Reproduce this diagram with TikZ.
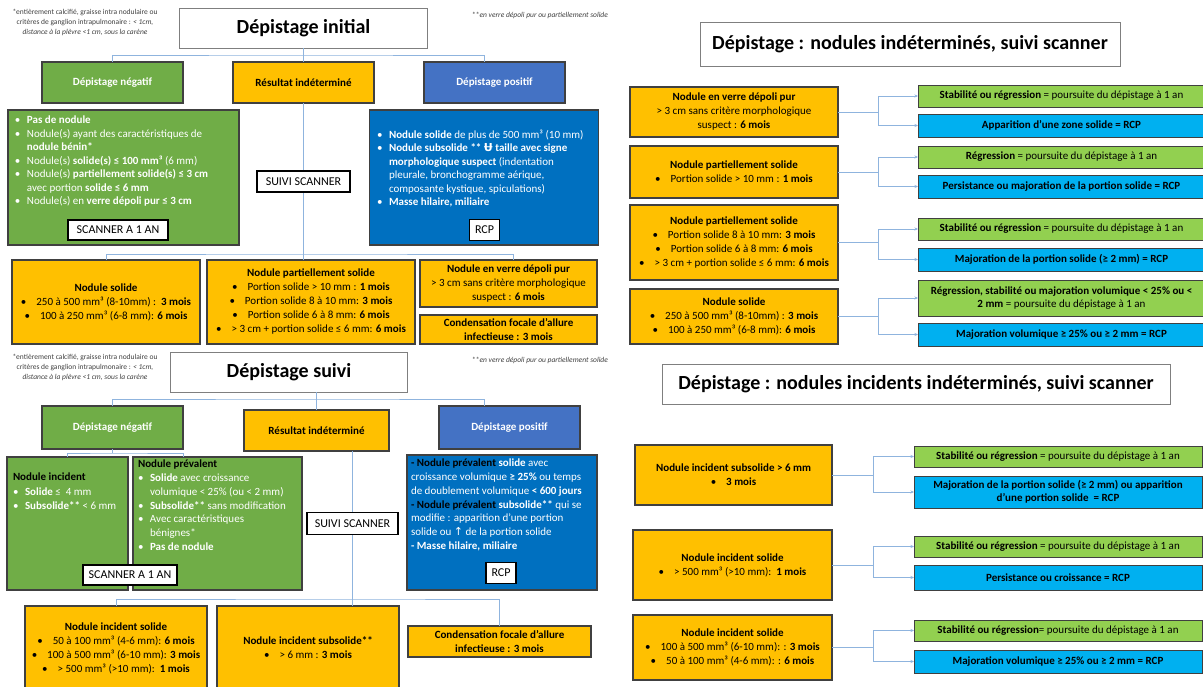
\documentclass[tikz,border=0pt]{standalone}
\usepackage{fontspec}
\setmainfont{Carlito}
\newfontfamily\symfont{DejaVu Sans}
\usetikzlibrary{arrows.meta}

\definecolor{c70ad47}{RGB}{112,173,71}
\definecolor{cffc000}{RGB}{255,192,0}
\definecolor{c4472c4}{RGB}{68,114,196}
\definecolor{c0070c0}{RGB}{0,112,192}
\definecolor{c92d050}{RGB}{146,208,80}
\definecolor{c00b0f0}{RGB}{0,176,240}
\definecolor{c404040}{RGB}{64,64,64}
\definecolor{c7f7f7f}{RGB}{127,127,127}
\definecolor{c8fb4de}{RGB}{143,180,222}

\newcommand{\fs}[2]{\fontsize{#1}{#2}\selectfont}
\newcommand{\blt}{\makebox[12pt][l]{•}}
\newcommand{\bct}{•\hspace{10pt}}

\tikzset{
  bx/.style 2 args={draw=c404040, line width=1.1pt, minimum width=#1,
    minimum height=#2, align=center, font=\fs{11}{14}},
  hdr/.style 2 args={bx={#1}{#2}, font=\fs{11}{13}\bfseries},
  ttl/.style 2 args={draw=c7f7f7f, line width=0.8pt, fill=white, minimum width=#1,
    minimum height=#2, font=\fs{20}{23}\bfseries},
  lbl/.style 2 args={draw=black, line width=1.2pt, fill=white, minimum width=#1,
    minimum height=#2, font=\fs{12}{14}},
  lst/.style={anchor=north west, align=left, text=white, font=\fs{11}{13.5}},
  note/.style={align=center, text=c404040, font=\fs{7.5}{10}},
  gbx/.style 2 args={bx={#1}{#2}, fill=c92d050, line width=0.9pt},
  cbx/.style 2 args={bx={#1}{#2}, fill=c00b0f0, line width=0.9pt, font=\fs{11}{13}\bfseries},
  conn/.style={draw=c8fb4de, line width=0.8pt},
  arr/.style={conn, -{Stealth[length=3.5pt, width=3pt]}}
}

\begin{document}
\begin{tikzpicture}[x=1pt, y=1pt, yscale=-1, inner sep=0pt, outer sep=0pt]
\path[use as bounding box, fill=white] (0,0) rectangle (1203,686);

% Depistage initial
\path (85,22) node[note] (fninit) {*entièrement calcifié, graisse intra nodulaire ou\\
  critères de ganglion intrapulmonaire : \textit{< 1cm,}\\
  \textit{distance à la plèvre <1 cm, sous la carène}};
\path (540,15) node[note] (fninit2) {**\textit{en verre dépoli pur ou partiellement solide}};
\path (303.5,28) node[ttl={248}{40}] (tinit) {Dépistage initial};
\path (112.5,82.5) node[hdr={141}{41}, fill=c70ad47, text=white] (hneg) {Dépistage négatif};
\path (303.5,82.5) node[hdr={141}{41}, fill=cffc000] (hind) {Résultat indéterminé};
\path (494.5,82.5) node[hdr={141}{41}, fill=c4472c4, text=white] (hpos) {Dépistage positif};
\path (123.5,177.5) node[bx={231}{135}, fill=c70ad47] (bneg) {};
\path (15,116) node[lst] (lneg) {\blt\textbf{Pas de nodule}\\
  \blt Nodule(s) ayant des caractéristiques de\\
  \hspace*{12pt}\textbf{nodule bénin*}\\
  \blt Nodule(s) \textbf{solide(s) ≤ 100 mm³} (6 mm)\\
  \blt Nodule(s) \textbf{partiellement solide(s) ≤ 3 cm}\\
  \hspace*{12pt}avec portion \textbf{solide ≤ 6 mm}\\
  \blt Nodule(s) en \textbf{verre dépoli pur ≤ 3 cm}};
\path (118,230) node[lbl={100}{20}] (scaninit) {SCANNER A 1 AN};
\path (484,177.5) node[bx={229}{135}, fill=c0070c0] (bpos) {};
\path (377,130) node[lst] (lpos) {\blt\textbf{Nodule solide} de plus de 500 mm³ (10 mm)\\
  \blt\textbf{Nodule subsolide ** {\symfont Ʉ} taille avec signe}\\
  \hspace*{12pt}\textbf{morphologique suspect} (indentation\\
  \hspace*{12pt}pleurale, bronchogramme aérique,\\
  \hspace*{12pt}composante kystique, spiculations)\\
  \blt\textbf{Masse hilaire, miliaire}};
\path (484.5,230) node[lbl={30}{21}] (rcpinit) {RCP};
\path (106,302) node[bx={188}{84}, fill=cffc000] (nsol) {\textbf{Nodule solide}\\
  \bct 250 à 500 mm³ (8-10mm) :\ \ \textbf{3 mois}\\
  \bct 100 à 250 mm³ (6-8 mm): \textbf{6 mois}};
\path (311,302) node[bx={208}{84}, fill=cffc000] (nps) {\textbf{Nodule partiellement solide}\\
  \bct Portion solide > 10 mm : \textbf{1 mois}\\
  \bct Portion solide 8 à 10 mm: \textbf{3 mois}\\
  \bct Portion solide 6 à 8 mm: \textbf{6 mois}\\
  \bct > 3 cm + portion solide ≤ 6 mm: \textbf{6 mois}};
\path (508.5,283.5) node[bx={177}{47}, fill=cffc000] (nvd) {\textbf{Nodule en verre dépoli pur}\\
  > 3 cm sans critère morphologique\\ suspect : \textbf{6 mois}};
\path (508.5,329.5) node[bx={177}{29}, fill=cffc000] (ncf) {\textbf{Condensation focale d’allure}\\
  \textbf{infectieuse : 3 mois}};
\path (tinit.south) ++(0,7) coordinate (j1);
\draw[conn] (tinit.south) -- (hind.north);
\draw[conn] (hneg.north) |- (j1) -| ([xshift=-10pt]hpos.north);
\path (303.5,254) coordinate (j2);
\draw[conn] (hind.south) -- (j2) -- (j2 |- nps.north);
\draw[conn] (nsol.north) |- (j2) -| ([xshift=5pt]nvd.north);
\path (303.5,181.5) node[lbl={93}{21}] (suiviinit) {SUIVI SCANNER};

% Depistage suivi
\path (85,367) node[note] (fnsuivi) {*entièrement calcifié, graisse intra nodulaire ou\\
  critères de ganglion intrapulmonaire : \textit{< 1cm,}\\
  \textit{distance à la plèvre <1 cm, sous la carène}};
\path (540,360) node[note] (fnsuivi2) {**\textit{en verre dépoli pur ou partiellement solide}};
\path (289,372) node[ttl={237}{40}] (tsuiv) {Dépistage suivi};
\path (112.5,427.5) node[hdr={141}{43}, fill=c70ad47, text=white] (hneg2) {Dépistage négatif};
\path (316.5,430.5) node[hdr={145}{41}, fill=cffc000] (hind2) {Résultat indéterminé};
\path (509.5,427.5) node[hdr={141}{43}, fill=c4472c4, text=white] (hpos2) {Dépistage positif};
\path (67.5,523.5) node[bx={121}{133}, fill=c70ad47] (binc) {};
\path (13,473) node[lst, font=\fs{11}{14.5}] (linc) {\textcolor{black}{\textbf{Nodule incident}}\\
  \blt\textbf{Solide} ≤\ \ 4 mm\\
  \blt\textbf{Subsolide**} < 6 mm};
\path (217.5,523.5) node[bx={169}{133}, fill=c70ad47] (bprev) {};
\path (138,460) node[lst, font=\fs{11}{13.8}] (lprev) {\textcolor{black}{\textbf{Nodule prévalent}}\\
  \blt\textbf{Solide} avec croissance\\
  \hspace*{12pt}volumique < 25\% (ou < 2 mm)\\
  \blt\textbf{Subsolide**} sans modification\\
  \blt Avec caractéristiques\\
  \hspace*{12pt}bénignes*\\
  \blt\textbf{Pas de nodule}};
\path (130,575) node[lbl={94}{20}] (scansuivi) {SCANNER A 1 AN};
\path (502,522.5) node[bx={190}{135}, fill=c0070c0] (bpos2) {};
\path (411,459) node[lst, font=\fs{11}{13.8}] (lpos2) {\textcolor{black}{\textbf{- Nodule prévalent}} \textbf{solide} avec\\
  croissance volumique \textbf{≥ 25\%} ou temps\\
  de doublement volumique \textbf{< 600 jours}\\
  \textcolor{black}{\textbf{- Nodule prévalent}} \textbf{subsolide**} qui se\\
  modifie : apparition d’une portion\\
  solide ou {\symfont ↑} de la portion solide\\
  \textbf{- Masse hilaire, miliaire}};
\path (501,573) node[lbl={30}{21}] (rcpsuivi) {RCP};
\path (116,648) node[bx={182}{84}, fill=cffc000] (ninc) {\textbf{Nodule incident solide}\\
  \bct 50 à 100 mm³ (4-6 mm): \textbf{6 mois}\\
  \bct 100 à 500 mm³ (6-10 mm): \textbf{3 mois}\\
  \bct > 500 mm³ (>10 mm):\ \ \textbf{1 mois}};
\path (308,648) node[bx={182}{84}, fill=cffc000] (nsub) {\textbf{Nodule incident subsolide**}\\
  \bct > 6 mm : \textbf{3 mois}};
\path (499.5,641.5) node[bx={183}{31}, fill=cffc000] (ncond) {\textbf{Condensation focale d’allure}\\
  \textbf{infectieuse : 3 mois}};
\path (tsuiv.south -| hind2.north) ++(0,7) coordinate (j3);
\draw[conn] (tsuiv.south -| hind2.north) -- (hind2.north);
\draw[conn] (hneg2.north) |- (j3) -| ([xshift=-25pt]hpos2.north);
\path (hneg2.south) ++(0,4) coordinate (j4);
\draw[conn] (hneg2.south) -- (j4);
\draw[conn] (binc.north) |- (j4) -| ([xshift=-34pt]bprev.north);
\path ([xshift=36pt]hind2.south) coordinate (k0);
\path (nsub.north -| k0) ++(0,-7) coordinate (j5);
\draw[conn] (k0) -- (j5) -- (j5 |- nsub.north);
\draw[conn] (ninc.north) |- (j5) -| (ncond.north);
\path (352.5,523.5) node[lbl={91}{22}] (suivisuivi) {SUIVI SCANNER};

% nodules indetermines
\path (910,44) node[ttl={420}{44}] (tnodind) {Dépistage : nodules indéterminés, suivi scanner};
\path (734,112) node[bx={208}{50}, fill=cffc000] (r1y) {\textbf{Nodule en verre dépoli pur}\\
  > 3 cm sans critère morphologique\\ suspect : \textbf{6 mois}};
\path (1061.5,96) node[gbx={287}{22}] (r1g) {\textbf{Stabilité ou régression} = poursuite du dépistage à 1 an};
\path (1061.5,125.5) node[cbx={287}{23}] (r1b) {Apparition d’une zone solide = RCP};
\path (734,172) node[bx={208}{52}, fill=cffc000] (r2y) {\textbf{Nodule partiellement solide}\\
  \bct Portion solide > 10 mm : \textbf{1 mois}};
\path (1061.5,157) node[gbx={287}{22}] (r2g) {\textbf{Régression} = poursuite du dépistage à 1 an};
\path (1061.5,186.5) node[cbx={287}{23}] (r2b) {Persistance ou majoration de la portion solide = RCP};
\path (734,242.5) node[bx={208}{75}, fill=cffc000] (r3y) {\textbf{Nodule partiellement solide}\\
  \bct Portion solide 8 à 10 mm: \textbf{3 mois}\\
  \bct Portion solide 6 à 8 mm: \textbf{6 mois}\\
  \bct > 3 cm + portion solide ≤ 6 mm: \textbf{6 mois}};
\path (1061.5,229) node[gbx={287}{22}] (r3g) {\textbf{Stabilité ou régression} = poursuite du dépistage à 1 an};
\path (1061.5,259.5) node[cbx={287}{23}] (r3b) {Majoration de la portion solide (≥ 2 mm) = RCP};
\path (734,316.5) node[bx={208}{55}, fill=cffc000] (r4y) {\textbf{Nodule solide}\\
  \bct 250 à 500 mm³ (8-10mm) : \textbf{3 mois}\\
  \bct 100 à 250 mm³ (6-8 mm): \textbf{6 mois}};
\path (1061.5,298) node[gbx={287}{36}, font=\fs{11}{12.5}] (r4g) {\textbf{Régression, stabilité ou majoration volumique < 25\% ou <}\\
  \textbf{2 mm} = poursuite du dépistage à 1 an};
\path (1061.5,334.5) node[cbx={287}{23}] (r4b) {Majoration volumique ≥ 25\% ou ≥ 2 mm = RCP};
\draw[conn] (r1y.east) -- ++(40,0) coordinate (k1);
\draw[arr] (k1) |- (r1g.west);
\draw[arr] (k1) |- (r1b.west);
\draw[conn] (r2y.east) -- ++(40,0) coordinate (k2);
\draw[arr] (k2) |- (r2g.west);
\draw[arr] (k2) |- (r2b.west);
\draw[conn] (r3y.east) -- ++(40,0) coordinate (k3);
\draw[arr] (k3) |- (r3g.west);
\draw[arr] (k3) |- (r3b.west);
\draw[conn] (r4y.east) -- ++(40,0) coordinate (k4);
\draw[arr] (k4) |- (r4g.west);
\draw[arr] (k4) |- (r4b.west);

% nodules incidents indetermines
\path (916,384) node[ttl={508}{40}] (tnodinc) {Dépistage : nodules incidents indéterminés, suivi scanner};
\path (733.5,475) node[bx={197}{60}, fill=cffc000] (r5y) {\textbf{Nodule incident subsolide > 6 mm}\\
  \bct\textbf{3 mois}};
\path (1058,456.5) node[gbx={288}{21}] (r5g) {\textbf{Stabilité ou régression} = poursuite du dépistage à 1 an};
\path (1058,492) node[cbx={288}{32}] (r5b) {Majoration de la portion solide (≥ 2 mm) ou apparition\\
  d’une portion solide \ = RCP};
\path (732.5,565) node[bx={199}{70}, fill=cffc000] (r6y) {\textbf{Nodule incident solide}\\
  \bct > 500 mm³ (>10 mm):\ \ \textbf{1 mois}};
\path (1058,546.5) node[gbx={288}{21}] (r6g) {\textbf{Stabilité ou régression} = poursuite du dépistage à 1 an};
\path (1058,577.5) node[cbx={288}{25}] (r6b) {Persistance ou croissance = RCP};
\path (732.5,647.5) node[bx={199}{65}, fill=cffc000] (r7y) {\textbf{Nodule incident solide}\\
  \bct 100 à 500 mm³ (6-10 mm): : \textbf{3 mois}\\
  \bct 50 à 100 mm³ (4-6 mm): : \textbf{6 mois}};
\path (1058,630.5) node[gbx={288}{21}] (r7g) {\textbf{Stabilité ou régression}= poursuite du dépistage à 1 an};
\path (1058,661.5) node[cbx={288}{23}] (r7b) {Majoration volumique ≥ 25\% ou ≥ 2 mm = RCP};
\draw[conn] (r5y.east) -- ++(41,0) coordinate (k5);
\draw[arr] (k5) |- (r5g.west);
\draw[arr] (k5) |- (r5b.west);
\draw[conn] (r6y.east) -- ++(41,0) coordinate (k6);
\draw[arr] (k6) |- (r6g.west);
\draw[arr] (k6) |- (r6b.west);
\draw[conn] (r7y.east) -- ++(41,0) coordinate (k7);
\draw[arr] (k7) |- (r7g.west);
\draw[arr] (k7) |- (r7b.west);
\end{tikzpicture}
\end{document}
